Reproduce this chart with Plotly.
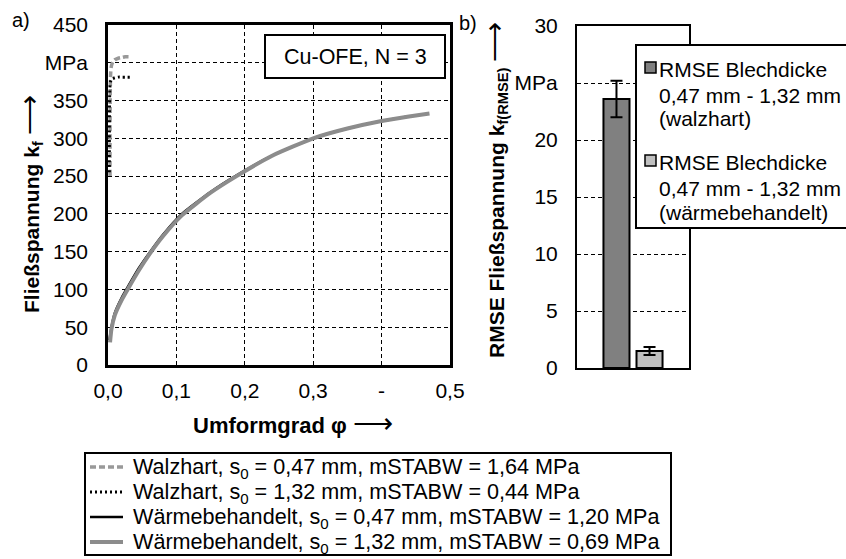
import plotly.graph_objects as go

# ---------------- data ----------------
# Walzhart, s0 = 0.47 mm (grey dashed)
phi_wh047 = [0.003, 0.003, 0.0032, 0.0035, 0.004, 0.005, 0.007, 0.01, 0.015, 0.02, 0.025, 0.03]
kf_wh047 = [250, 300, 350, 375, 388, 396, 401, 404, 406, 407, 408, 408]
# Walzhart, s0 = 1.32 mm (black dotted)
phi_wh132 = [0.002, 0.002, 0.0022, 0.0025, 0.003, 0.004, 0.006, 0.01, 0.015, 0.02, 0.025, 0.032]
kf_wh132 = [255, 300, 340, 360, 370, 376, 379, 380, 381, 381, 381, 381]
# Waermebehandelt, s0 = 0.47 mm (black)
phi_wb047 = [0.002, 0.005, 0.01, 0.02, 0.03, 0.045, 0.061, 0.08, 0.108, 0.15, 0.188, 0.24, 0.3, 0.35, 0.4, 0.44]
kf_wb047 = [33, 50, 69, 89, 105, 128, 149, 172, 200, 229, 251, 277, 300, 313, 323, 329]
# Waermebehandelt, s0 = 1.32 mm (grey)
phi_wb132 = [0.003, 0.005, 0.01, 0.02, 0.03, 0.045, 0.061, 0.08, 0.108, 0.15, 0.188, 0.24, 0.3, 0.35, 0.4, 0.44, 0.47]
kf_wb132 = [30, 47, 66, 86, 102, 125, 147, 170, 198, 228, 250, 277, 300, 313, 323, 329, 333]

series_names = [
    "Walzhart, s<sub>0</sub> = 0,47 mm, mSTABW = 1,64 MPa",
    "Walzhart, s<sub>0</sub> = 1,32 mm, mSTABW = 0,44 MPa",
    "Wärmebehandelt, s<sub>0</sub> = 0,47 mm, mSTABW = 1,20 MPa",
    "Wärmebehandelt, s<sub>0</sub> = 1,32 mm, mSTABW = 0,69 MPa",
]

bar_categories = ["Cu-OFE"]
rmse_walzhart = [23.6]
err_walzhart = [1.6]
rmse_waerme = [1.5]
err_waerme = [0.35]
bar_legend_lines = [
    ["RMSE Blechdicke", "0,47 mm - 1,32 mm", "(walzhart)"],
    ["RMSE Blechdicke", "0,47 mm - 1,32 mm", "(wärmebehandelt)"],
]

x_tickvals = [0, 0.1, 0.2, 0.3, 0.4, 0.5]
x_ticktext = ["0,0", "0,1", "0,2", "0,3", "-", "0,5"]
y_tickvals = [0, 50, 100, 150, 200, 250, 300, 350, 400, 450]
y_ticktext = ["0", "50", "100", "150", "200", "250", "300", "350", "MPa", "450"]
y2_tickvals = [0, 5, 10, 15, 20, 25, 30]
y2_ticktext = ["0", "5", "10", "15", "20", "MPa", "30"]

x_title = "<b>Umformgrad φ</b>"
y_title = "<b>Fließspannung k<sub>f</sub></b>"
y2_title = "<b>RMSE Fließspannung k<sub>f(RMSE)</sub></b>"

# ---------------- layout helpers ----------------
W, H = 846, 559
FONT = "Liberation Sans, Arial, sans-serif"


def px(x):
    return x / W


def py(y):
    return 1 - y / H


styles = [
    dict(color="#999999", width=3.5, dash="6px,3px"),
    dict(color="black", width=3, dash="2px,3px"),
    dict(color="black", width=2.5),
    dict(color="#8c8c8c", width=4),
]

fig = go.Figure()
fig.add_trace(go.Scatter(x=phi_wh047, y=kf_wh047, mode="lines", name=series_names[0],
                         line=dict(shape="spline", smoothing=0.6, **styles[0]), showlegend=False))
fig.add_trace(go.Scatter(x=phi_wh132, y=kf_wh132, mode="lines", name=series_names[1],
                         line=dict(shape="spline", smoothing=0.6, **styles[1]), showlegend=False))
fig.add_trace(go.Scatter(x=phi_wb047, y=kf_wb047, mode="lines", name=series_names[2],
                         line=dict(shape="spline", smoothing=0.5, **styles[2]), showlegend=False))
fig.add_trace(go.Scatter(x=phi_wb132, y=kf_wb132, mode="lines", name=series_names[3],
                         line=dict(shape="spline", smoothing=0.5, **styles[3]), showlegend=False))

fig.add_trace(go.Bar(x=bar_categories, y=rmse_walzhart, xaxis="x2", yaxis="y2", showlegend=False,
                     marker=dict(color="#808080", line=dict(color="black", width=2)),
                     error_y=dict(type="data", array=err_walzhart, color="black", thickness=2, width=6)))
fig.add_trace(go.Bar(x=bar_categories, y=rmse_waerme, xaxis="x2", yaxis="y2", showlegend=False,
                     marker=dict(color="#c0c0c0", line=dict(color="black", width=2)),
                     error_y=dict(type="data", array=err_waerme, color="black", thickness=2, width=6)))

grid = dict(showgrid=True, gridcolor="black", gridwidth=1, griddash="4px,3px")
axline = dict(showline=True, mirror=True, linecolor="black", zeroline=False, ticks="")
ARROW = " <span style=\"font-size:28px\">⟶</span>"

fig.update_layout(
    width=W, height=H,
    margin=dict(l=0, r=0, t=0, b=0),
    paper_bgcolor="white", plot_bgcolor="white",
    font=dict(family=FONT, size=21, color="black"),
    showlegend=False,
    barmode="group", bargap=0.41, bargroupgap=0.212,
    xaxis=dict(domain=[px(108), px(450)], range=[0, 0.5], tickvals=x_tickvals, ticktext=x_ticktext,
               linewidth=2.5, automargin=False, ticklabelstandoff=5, layer="below traces",
               **grid, **axline),
    yaxis=dict(domain=[py(365), py(25)], range=[0, 450], tickvals=y_tickvals, ticktext=y_ticktext,
               linewidth=2.5, automargin=False, ticklabelstandoff=13, layer="below traces",
               **grid, **axline),
    xaxis2=dict(domain=[px(577), px(689)], anchor="y2", range=[-0.5, 0.5], showticklabels=False,
                showgrid=False, linewidth=2, automargin=False, type="category", **axline),
    yaxis2=dict(domain=[py(368), py(26)], anchor="x2", range=[0, 30], tickvals=y2_tickvals,
                ticktext=y2_ticktext, linewidth=2, automargin=False, ticklabelstandoff=13,
                **grid, **axline),
)

shapes = []
annotations = []

# axis titles (placed as annotations for exact position)
annotations.append(dict(text=x_title + ARROW, xref="paper", yref="paper", x=px(293), y=py(423),
                        xanchor="center", yanchor="middle", showarrow=False, font=dict(size=22)))
annotations.append(dict(text=y_title + ARROW, xref="paper", yref="paper", x=px(30), y=py(204),
                        xanchor="center", yanchor="middle", textangle=-90, showarrow=False,
                        font=dict(size=21)))
annotations.append(dict(text=y2_title + ARROW, xref="paper", yref="paper", x=px(495), y=py(190),
                        xanchor="center", yanchor="middle", textangle=-90, showarrow=False,
                        font=dict(size=21)))

# Cu-OFE box
shapes.append(dict(type="rect", xref="paper", yref="paper", x0=px(265), x1=px(445), y0=py(35), y1=py(78),
                   line=dict(color="black", width=2), fillcolor="white", layer="above"))
annotations.append(dict(text="Cu-OFE, N = 3", xref="paper", yref="paper", x=px(355), y=py(57),
                        xanchor="center", yanchor="middle", showarrow=False, font=dict(size=21.5)))

# panel letters
annotations.append(dict(text="a)", xref="paper", yref="paper", x=px(10), y=py(20), xanchor="left",
                        yanchor="middle", showarrow=False, font=dict(size=20)))
annotations.append(dict(text="b)", xref="paper", yref="paper", x=px(457), y=py(23), xanchor="left",
                        yanchor="middle", showarrow=False, font=dict(size=20)))

# legend for the line chart (bottom)
shapes.append(dict(type="rect", xref="paper", yref="paper", x0=px(85), x1=px(671), y0=py(453), y1=py(555),
                   line=dict(color="black", width=2), fillcolor="white", layer="above"))
leg_ys = [467, 492, 517, 542]
for k in range(4):
    st = styles[k]
    shapes.append(dict(type="line", xref="paper", yref="paper", x0=px(90), x1=px(123),
                       y0=py(leg_ys[k]), y1=py(leg_ys[k]),
                       line=dict(color=st["color"], width=st["width"], dash=st.get("dash", "solid")),
                       layer="above"))
    annotations.append(dict(text=series_names[k], xref="paper", yref="paper", x=px(131), y=py(leg_ys[k] + 1),
                            xanchor="left", yanchor="middle", showarrow=False, font=dict(size=21.6)))

# legend for the bar chart (box, symbols, text lines)
shapes.append(dict(type="rect", xref="paper", yref="paper", x0=px(636), x1=px(870), y0=py(45), y1=py(228),
                   line=dict(color="black", width=2), fillcolor="white", layer="above"))
sym_colors = ["#808080", "#c0c0c0"]
line_ys = [[68, 94, 118], [161, 187, 211]]
for k in range(2):
    cy = line_ys[k][0]
    shapes.append(dict(type="rect", xref="paper", yref="paper", x0=px(645), x1=px(656), y0=py(cy - 6),
                       y1=py(cy + 5), line=dict(color="black", width=1.5), fillcolor=sym_colors[k],
                       layer="above"))
    for j, t in enumerate(bar_legend_lines[k]):
        annotations.append(dict(text=t, xref="paper", yref="paper", x=px(657), y=py(line_ys[k][j] + 1),
                                xanchor="left", yanchor="middle", showarrow=False, font=dict(size=21)))

fig.update_layout(shapes=shapes, annotations=annotations)

fig.write_html("out.html")
